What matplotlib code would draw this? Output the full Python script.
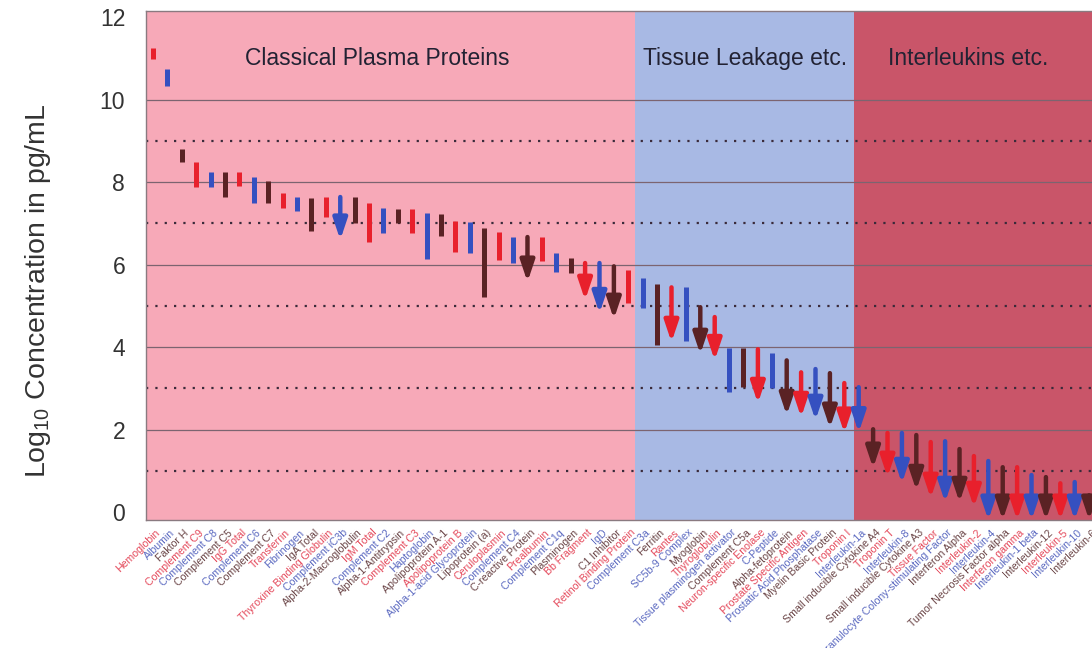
import numpy as np
import matplotlib
matplotlib.use('Agg')
import matplotlib.pyplot as plt
from matplotlib.transforms import blended_transform_factory

plt.rcParams['font.family'] = ['Liberation Sans', 'DejaVu Sans']
plt.rcParams['mathtext.fontset'] = 'custom'
plt.rcParams['mathtext.rm'] = 'Liberation Sans'

# protein names, left to right
names = ['Hemoglobin', 'Albumin', 'Faktor H', 'Complement C9', 'Complement C8',
         'Complement C5', 'IgG Total', 'Complement C6', 'Complement C7', 'Transferrin',
         'Fibrinogen', 'IgA Total', 'Thyroxine Binding Globulin', 'Complement iC3b',
         'Alpha-2-Macroglobulin', 'IgM Total', 'Complement C2', 'Alpha-1-Antitrypsin',
         'Complement C3', 'Haptoglobin', 'Apolipoprotein A-1', 'Apolipoprotein B',
         'Alpha-1-acid Glycoprotein', 'Lipoprotein (a)', 'Ceruloplasmin', 'Complement C4',
         'C-reactive Protein', 'Prealbumin', 'Complement C1q', 'Plasminogen', 'Bb Fragment',
         'IgD', 'C1 Inhibitor', 'Retinol Binding Protein',
         'Complement C3a', 'Ferritin', 'Rantes', 'SC5b-9 Complex', 'Myoglobin',
         'Thyroglobulin', 'Tissue plasminogen activator', 'Complement C5a',
         'Neuron-specific Enolase', 'C-Peptide', 'Alpha-fetoprotein',
         'Prostate Specific Antigen', 'Prostatic Acid Phosphatase', 'Myelin Basic Protein',
         'Troponin I', 'Interleukin-1a',
         'Small inducible Cytokine A4', 'Troponin T', 'Interleukin-8',
         'Small inducible Cytokine A3', 'Tissue Factor',
         'Granulocyte Colony-stimulating Factor', 'Interferon Alpha', 'Interleukin-2',
         'Interleukin-4', 'Tumor Necrosis Factor alpha', 'Interferon gamma',
         'Interleukin-1 beta', 'Interleukin-12', 'Interleukin-5', 'Interleukin-10',
         'Interleukin-6']

# log10 concentration range (upper, lower)
upper = [11.25, 10.75, 8.8, 8.5, 8.25, 8.25, 8.24, 8.12, 8.02, 7.73,
         7.64, 7.61, 7.64, 7.64, 7.64, 7.49, 7.37, 7.35, 7.35, 7.25,
         7.22, 7.05, 7.03, 6.88, 6.79, 6.67, 6.67, 6.67, 6.28, 6.16,
         6.04, 6.04, 5.96, 5.88,
         5.67, 5.53, 5.45, 5.45, 4.97, 4.73, 3.98, 3.98, 3.95, 3.85,
         3.68, 3.39, 3.47, 3.37, 3.13, 3.03,
         2.01, 1.92, 1.92, 1.87, 1.70, 1.72, 1.53, 1.36, 1.24, 1.09,
         1.09, 0.90, 0.85, 0.70, 0.73, 0.41]
lower = [10.98, 10.33, 8.48, 7.88, 7.88, 7.64, 7.90, 7.49, 7.49, 7.37,
         7.30, 6.81, 7.15, 6.60, 7.00, 6.55, 6.76, 7.00, 6.76, 6.13,
         6.69, 6.30, 6.28, 5.21, 6.11, 6.04, 5.58, 6.08, 5.82, 5.79,
         5.14, 4.82, 4.68, 5.08,
         4.95, 4.05, 4.12, 4.15, 3.83, 3.68, 2.91, 3.03, 2.64, 3.00,
         2.35, 2.30, 2.23, 2.04, 1.92, 1.93,
         1.07, 0.85, 0.70, 0.53, 0.34, 0.24, 0.24, 0.12, -0.19, -0.19,
         -0.19, -0.19, -0.19, -0.19, -0.19, -0.19]
# 1 = only an upper limit known (drawn as arrow)
arrow = [0, 0, 0, 0, 0, 0, 0, 0, 0, 0,
         0, 0, 0, 1, 0, 0, 0, 0, 0, 0,
         0, 0, 0, 0, 0, 0, 1, 0, 0, 0,
         1, 1, 1, 0,
         0, 0, 1, 0, 1, 1, 0, 0, 1, 0,
         1, 1, 1, 1, 1, 1,
         1, 1, 1, 1, 1, 1, 1, 1, 1, 1,
         1, 1, 1, 1, 1, 1]

groups = ['Classical Plasma Proteins', 'Tissue Leakage etc.', 'Interleukins etc.']

bar_cols = ['#e8202c', '#3550c0', '#5a2224']
txt_cols = ['#e4485a', '#5a68c0', '#6a4446']
bg_cols = ['#f7a9b8', '#a8b9e4', '#c95569']
edges = [-0.49, 33.5, 48.7, 65.2]

fig = plt.figure(figsize=(10.92, 6.48), dpi=100)
ax = fig.add_axes([146/1092, 1-520/648, 1-146/1092, 509/648])
ax.set_xlim(-0.49, 65.2)
ax.set_ylim(-0.19, 12.15)

for i in range(3):
    ax.axvspan(edges[i], edges[i+1], color=bg_cols[i], zorder=0, lw=0)

for v in [2, 4, 6, 8, 10]:
    ax.axhline(v, color='#7c6470', lw=0.9, zorder=1)
for v in [1, 3, 5, 7, 9]:
    ax.axhline(v, color='#3a2a3a', lw=1.6, ls=(0, (1, 3.2)), zorder=1)

x = np.arange(len(names))
for i in range(len(names)):
    c = bar_cols[i % 3]
    if arrow[i]:
        ax.annotate('', xy=(x[i], lower[i]), xytext=(x[i], upper[i]),
                    arrowprops=dict(arrowstyle='-|>,head_width=0.42,head_length=1.25',
                                    color=c, lw=3.2, shrinkA=0, shrinkB=0),
                    zorder=3, annotation_clip=False)
    else:
        ax.vlines(x[i], lower[i], upper[i], color=c, lw=3.6, zorder=3)

trans = blended_transform_factory(ax.transData, ax.transAxes)
for i, n in enumerate(names):
    ax.text(x[i] + 0.15, -0.015, n, transform=trans, rotation=44, ha='right', va='top',
            rotation_mode='anchor', fontsize=7.6, color=txt_cols[i % 3])

ax.text(15.6, 11.0, groups[0], ha='center', va='center', fontsize=16.5, color='#222233')
ax.text(41.1, 11.0, groups[1], ha='center', va='center', fontsize=16.5, color='#222233')
ax.text(56.6, 11.0, groups[2], ha='center', va='center', fontsize=16.5, color='#222233')

ax.set_yticks(range(0, 13, 2))
ax.set_xticks([])
ax.tick_params(axis='y', length=0, pad=15, labelsize=16.5, labelcolor='#333333')
for s in ['left', 'bottom', 'top']:
    ax.spines[s].set_color('#8a7a80')
    ax.spines[s].set_linewidth(1.0)
ax.spines['right'].set_visible(False)

ax.set_ylabel('Log$_{\\mathrm{10}}$ Concentration in pg/mL', fontsize=20.5, color='#333333')
ax.yaxis.set_label_coords(-0.098, 0.45)

plt.savefig('out.png', dpi=100)
